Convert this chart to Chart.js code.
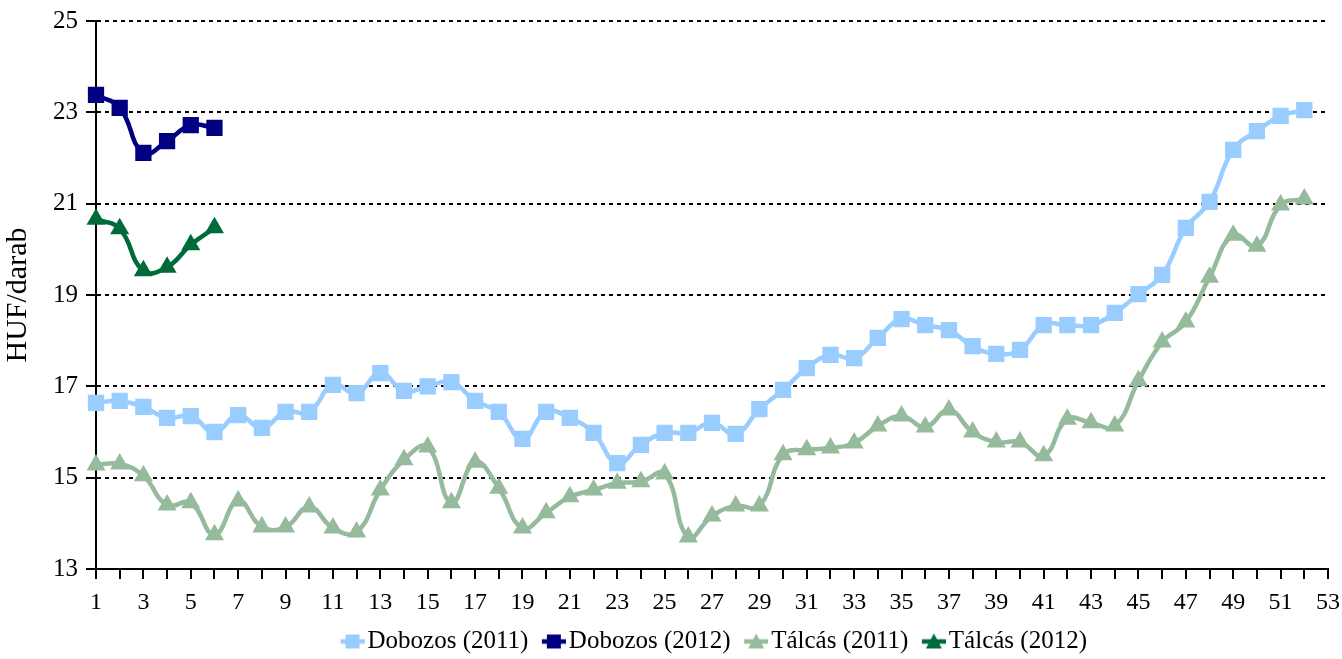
<!DOCTYPE html>
<html>
<head>
<meta charset="utf-8">
<script src="https://cdn.jsdelivr.net/npm/chart.js@4/dist/chart.umd.min.js"></script>
<style>
html,body{margin:0;padding:0;background:#fff;}
#wrap{width:1342px;height:659px;position:relative;}
</style>
</head>
<body>
<div id="wrap"><canvas id="c"></canvas></div>
<script>
const weeks = Array.from({length:53}, (_, i) => String(i + 1));
const dobozos2011 = [16.64,16.68,16.55,16.31,16.35,16.0,16.37,16.09,16.44,16.44,17.03,16.85,17.29,16.9,17.0,17.09,16.68,16.44,15.85,16.44,16.31,15.98,15.32,15.72,15.98,15.98,16.2,15.96,16.5,16.92,17.4,17.69,17.62,18.06,18.47,18.34,18.23,17.88,17.71,17.8,18.34,18.34,18.34,18.61,19.02,19.44,20.47,21.04,22.18,22.59,22.92,23.05];
const dobozos2012 = [23.38,23.1,22.11,22.37,22.72,22.66];
const talcas2011 = [15.28,15.3,15.04,14.4,14.45,13.75,14.49,13.92,13.92,14.36,13.9,13.81,14.73,15.39,15.67,14.45,15.34,14.77,13.9,14.23,14.58,14.73,14.88,14.91,15.08,13.7,14.16,14.38,14.38,15.5,15.61,15.65,15.76,16.13,16.35,16.11,16.48,16.0,15.78,15.78,15.48,16.28,16.2,16.13,17.12,17.97,18.41,19.39,20.31,20.07,20.97,21.1];
const talcas2012 = [20.66,20.45,19.53,19.61,20.1,20.47];
const yTicks = [13,15,17,19,21,23,25];

const FONT = "'Liberation Serif', 'Times New Roman', serif";

function legendIcon(color, style) {
  const c = document.createElement('canvas');
  c.width = 39; c.height = 18;
  const g = c.getContext('2d');
  g.strokeStyle = color; g.fillStyle = color; g.lineWidth = 4.5;
  g.beginPath(); g.moveTo(15, 9); g.lineTo(39, 9); g.stroke();
  g.beginPath();
  if (style === 'rect') { g.rect(20, 2, 14, 14); }
  else { g.moveTo(27, 1); g.lineTo(35, 16); g.lineTo(19, 16); g.closePath(); }
  g.fill();
  return c;
}

function ds(label, data, color, style, r) {
  return {label, data, borderColor: color, backgroundColor: color, borderWidth: 4.5,
    pointStyle: style, pointRadius: r, pointHoverRadius: r, pointBorderWidth: 0,
    tension: 0.45, fill: false, legendIcon: legendIcon(color, style)};
}

const legendShift = {
  id: 'legendShift',
  afterLayout(chart) {
    const lg = chart.legend;
    if (lg) { lg.left += 80; lg.top += 5; lg.bottom += 5; }
  }
};

new Chart(document.getElementById('c'), {
  type: 'line',
  data: {
    labels: weeks,
    datasets: [
      ds('Dobozos (2011)', dobozos2011, '#99CCFF', 'rect', 11.5),
      ds('Dobozos (2012)', dobozos2012, '#000080', 'rect', 11.5),
      ds('Tálcás (2011)', talcas2011, '#96BA9C', 'triangle', 11),
      ds('Tálcás (2012)', talcas2012, '#006B3A', 'triangle', 11)
    ]
  },
  plugins: [legendShift],
  options: {
    responsive: true, maintainAspectRatio: false, animation: false,
    layout: {padding: 0},
    plugins: {
      tooltip: {enabled: false},
      legend: {
        position: 'bottom',
        labels: {font: {family: FONT, size: 25}, color: '#000', usePointStyle: true, pointStyleWidth: 20, boxHeight: 18, padding: 8,
          generateLabels: (chart) => {
            const items = Chart.defaults.plugins.legend.labels.generateLabels(chart);
            items.forEach(it => { it.pointStyle = chart.data.datasets[it.datasetIndex].legendIcon; });
            return items;
          }}
      }
    },
    scales: {
      x: {
        offset: false,
        afterFit: (s) => { s.height = 47; s.paddingRight = 14; s.paddingLeft = 0; },
        grid: {display: true, drawOnChartArea: false, drawTicks: true, tickLength: 10, color: '#000', lineWidth: 2},
        border: {display: true, color: '#000', width: 2},
        ticks: {autoSkip: false, maxRotation: 0, color: '#000', font: {family: FONT, size: 24}, padding: 9,
          callback: function(v, i) { const l = weeks[i]; return (Number(l) % 2 === 1) ? l : ''; }}
      },
      y: {
        min: 13, max: 25,
        afterBuildTicks: (axis) => { axis.ticks = yTicks.map(v => ({value: v})); },
        afterFit: (s) => { s.width = 96; s.paddingTop = 21; s.paddingBottom = 0; },
        grid: {color: '#000', lineWidth: 2, tickLength: 10, tickBorderDash: [], tickColor: '#000'},
        border: {display: true, color: '#000', width: 2, dash: [4, 4]},
        ticks: {color: '#000', font: {family: FONT, size: 25}, padding: 8},
        title: {display: true, text: 'HUF/darab', color: '#000', font: {family: FONT, size: 30}, padding: {top: 0, bottom: 4}}
      }
    }
  }
});
</script>
</body>
</html>
